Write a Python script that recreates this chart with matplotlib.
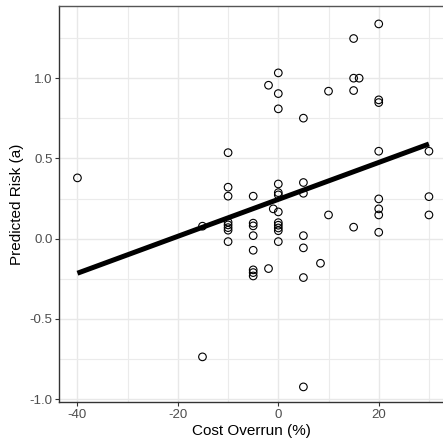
import matplotlib
matplotlib.use("Agg")
import matplotlib.pyplot as plt
from matplotlib.ticker import MultipleLocator
import numpy as np

# cost overrun (%) and predicted risk
cost_overrun = [
    -40, -15.1, -15.1,
    -10, -10, -10, -10, -10, -10, -10, -10,
    -5, -5, -5, -5, -5, -5, -5, -5,
    -1.95, -1.95, -1.0,
    0, 0, 0, 0, 0, 0, 0, 0, 0, 0, 0, 0,
    5, 5, 5, 5, 5, 5, 5,
    8.4, 10, 10,
    15, 15, 15, 15, 16.1,
    20, 20, 20, 20, 20, 20, 20, 20,
    30, 30, 30,
]
predicted_risk = [
    0.379, 0.078, -0.736,
    0.536, 0.321, 0.265, 0.103, 0.086, 0.069, 0.053, -0.018,
    0.265, 0.097, 0.080, 0.019, -0.072, -0.194, -0.211, -0.232,
    0.956, -0.186, 0.186,
    1.033, 0.904, 0.809, 0.341, 0.287, 0.273, 0.167, 0.100, 0.084, 0.067, 0.050, -0.018,
    0.751, 0.350, 0.283, 0.019, -0.057, -0.242, -0.923,
    -0.153, 0.919, 0.148,
    1.247, 1.0, 0.923, 0.072, 1.0,
    1.338, 0.865, 0.848, 0.545, 0.248, 0.186, 0.148, 0.040,
    0.545, 0.262, 0.148,
]

# fitted line
fit_intercept = 0.245
fit_slope = 0.0115

plt.rcParams["font.family"] = ["Liberation Sans", "DejaVu Sans"]
plt.rcParams["axes.unicode_minus"] = False

fig = plt.figure(figsize=(4.43, 4.43), dpi=100)
ax = fig.add_axes([0.134, 0.0926, 0.866, 0.894])

x = np.array(cost_overrun, dtype=float)
y = np.array(predicted_risk, dtype=float)

ax.scatter(x, y, s=30, facecolors="none", edgecolors="black", linewidths=0.8, zorder=3)

xf = np.array([x.min(), x.max()])
ax.plot(xf, fit_intercept + fit_slope * xf, color="black", linewidth=3.6,
        solid_capstyle="butt", zorder=4)

ax.set_xlim(-43.6, 32.8)
ax.set_ylim(-1.017, 1.45)
ax.xaxis.set_major_locator(MultipleLocator(20))
ax.xaxis.set_minor_locator(MultipleLocator(10))
ax.yaxis.set_major_locator(MultipleLocator(0.5))
ax.yaxis.set_minor_locator(MultipleLocator(0.25))
ax.yaxis.set_major_formatter(plt.FuncFormatter(lambda v, p: f"{v:.1f}"))

ax.grid(True, which="major", color="#E8E8E8", linewidth=1.0, zorder=0)
ax.grid(True, which="minor", color="#EBEBEB", linewidth=0.8, zorder=0)
ax.set_axisbelow(True)

ax.tick_params(axis="both", which="major", length=3, width=0.8, color="#333333",
               labelcolor="#4D4D4D", labelsize=9.5, pad=2)
ax.tick_params(axis="both", which="minor", length=0)

for side in ("left", "bottom"):
    ax.spines[side].set_color("#333333")
    ax.spines[side].set_linewidth(1.0)
ax.spines["top"].set_color("#555555")
ax.spines["top"].set_linewidth(1.0)
ax.spines["right"].set_visible(False)

ax.set_xlabel("Cost Overrun (%)", fontsize=11, color="black", labelpad=2)
ax.set_ylabel("Predicted Risk (a)", fontsize=11, color="black", labelpad=4)

fig.savefig("out.png", dpi=100)
plt.close(fig)
